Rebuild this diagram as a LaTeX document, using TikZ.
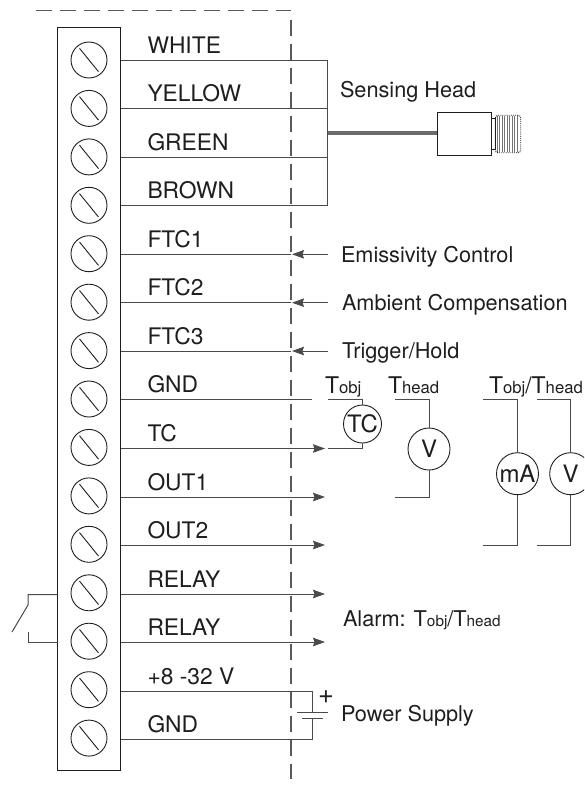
\documentclass[tikz,border=0pt]{standalone}
\usepackage{fontspec}
\setmainfont{TeX Gyre Heros}
\usetikzlibrary{arrows.meta}
\definecolor{ink}{HTML}{1E1E1E}
\definecolor{wire}{HTML}{4A4A4A}
\definecolor{dashc}{HTML}{5A5A5A}
\newcommand{\fbig}{\fontsize{22.8}{24}\selectfont}
\newcommand{\fmid}{\fontsize{21.7}{24}\selectfont}
\newcommand{\fsub}{\fontsize{16.7}{18}\selectfont}
\newcommand{\tsub}[1]{{\fontsize{23}{24}\selectfont T}{\fsub #1}}
\newcommand{\tsubs}[1]{T{\fontsize{15.3}{18}\selectfont #1}}
\tikzset{
  x=1pt,y=-1pt,
  every node/.style={inner sep=0pt,outer sep=0pt,text=ink},
  wireline/.style={draw=wire,line width=1pt},
  sig/.style={wireline,-{Stealth[length=12pt,width=8.5pt,inset=1.5pt]}},
  bound/.style={draw=dashc,line width=1.3pt,dash pattern=on 16pt off 8pt},
  term/.style={anchor=base west,font=\fbig},
  note/.style={anchor=base west,font=\fmid},
  screw/.style={circle,draw=ink,line width=0.9pt,minimum size=36pt},
  meter/.style={circle,draw=ink,line width=0.9pt,minimum size=42pt,font=\fontsize{24}{26}\selectfont},
  symb/.style={anchor=base west,font=\fbig},
}
\begin{document}
\begin{tikzpicture}
\useasboundingbox (0,0) rectangle (584,787);
\clip (0,0) rectangle (584,787);
% boundary
\coordinate (b0) at (36,10.5); \coordinate (b1) at (291,10.5);
\coordinate (b2) at (291,20); \coordinate (b3) at (291,779);
\draw[bound] (b0) -- (b1);
\draw[bound] (b2) -- (b3);
% terminal block
\node[draw=ink,line width=1pt,minimum width=63pt,minimum height=743.5pt] (block) at (89,399.2) {};
% terminals
\foreach \i/\wy/\sy/\lab in {1/60/60/WHITE,2/108.5/108.4/YELLOW,3/157/156.9/GREEN,4/205/205.3/BROWN,5/254.3/253.7/FTC1,6/302.7/302.2/FTC2,7/351/350.6/FTC3,8/399.5/399/GND,9/448.5/447.4/TC,10/497/495.9/OUT1,11/545/544.3/OUT2,12/594/592.8/RELAY,13/642/641.2/RELAY,14/691/689.7/+8 -32 V,15/739/738.1/GND}{
  \node[screw] (s\i) at (89,\sy) {};
  \draw[ink,line width=0.9pt] ([shift={(-9.5,-11.7)}]s\i.center) -- ([shift={(9.5,11.7)}]s\i.center);
  \coordinate (w\i) at (120.5,\wy);
  \pgfmathsetmacro{\ly}{\wy-6.8}
  \node[term] (l\i) at (147.5,\ly) {\lab};
}
% sensing head wires
\coordinate (bus1) at (327,60); \coordinate (bus2) at (327,108.5);
\coordinate (bus3) at (327,157); \coordinate (bus4) at (327,205);
\draw[wireline] (w1) -- (bus1) -- (bus4) -- (w4);
\draw[wireline] (w2) -- (bus2);
\draw[wireline] (w3) -- (bus3);
% sensing head
\node[draw=ink,line width=0.9pt,fill=white,minimum width=54pt,minimum height=42.6pt] (head) at (464,134) {};
\coordinate (cab0) at (327.5,133); \coordinate (cab1) at (437,133);
\draw[line width=4.5pt,draw=black!58] (cab0) -- (cab1);
\node[draw=ink,line width=0.8pt,minimum width=4pt,minimum height=31pt] (collar) at (493,133.5) {};
\foreach \x in {497,499.5,...,519}{\draw[black!55,line width=0.6pt] (\x,116) -- (\x,152);}
\node[draw=ink,line width=0.9pt,densely dotted,rounded corners=3pt,minimum width=25.5pt,minimum height=37.5pt] (thread) at (508,134) {};
\node[note] (nsense) at (340,97.5) {Sensing Head};
% control inputs
\coordinate (e5) at (291,254.3); \coordinate (e6) at (291,302.7); \coordinate (e7) at (291,351);
\coordinate (i5) at (292,254.3); \coordinate (i6) at (292,302.7); \coordinate (i7) at (292,351);
\coordinate (t5) at (328,254.3); \coordinate (t6) at (328,302.7); \coordinate (t7) at (328,351);
\foreach \i in {5,6,7}{
  \draw[wireline] (w\i) -- (e\i);
  \draw[sig] (t\i) -- (i\i);
}
\node[note] (n5) at (341,262) {Emissivity Control};
\node[note] (n6) at (342,310) {Ambient Compensation};
\node[note] (n7) at (342,358) {Trigger/Hold};
% outputs
\coordinate (g1) at (312,399.5);
\draw[wireline] (w8) -- (g1);
\coordinate (a9) at (325,448.5); \coordinate (a10) at (325,497); \coordinate (a11) at (325,545);
\coordinate (a12) at (325,594); \coordinate (a13) at (325,642);
\foreach \i in {9,10,11,12,13}{\draw[sig] (w\i) -- (a\i);}
% TC
\node[circle,draw=ink,line width=0.9pt,minimum size=38pt,font=\fontsize{24}{26}\selectfont] (tc) at (362.5,424) {TC};
\coordinate (tc1) at (328,399.5); \coordinate (tc2) at (328,448.5);
\draw[wireline] (tc1) -| (tc.north);
\draw[wireline] (tc2) -| (tc.south);
\node[symb] (ltc) at (325,393) {\tsub{obj}};
% V head
\node[meter] (vh) at (429,449) {V};
\coordinate (v1) at (395,399.5); \coordinate (v2) at (395,497);
\draw[wireline] (v1) -| (vh.north);
\draw[wireline] (v2) -| (vh.south);
\node[symb] (lvh) at (388,393) {\tsub{head}};
% mA and V
\node[meter] (ma) at (517.5,473.7) {mA};
\coordinate (m1) at (483,399.5); \coordinate (m2) at (483,545);
\draw[wireline] (m1) -| (ma.north);
\draw[wireline] (m2) -| (ma.south);
\node[meter] (vo) at (570.7,473.7) {V};
\coordinate (o1) at (537,399.5); \coordinate (o2) at (537,545);
\draw[wireline] (o1) -| (vo.north);
\draw[wireline] (o2) -| (vo.south);
\node[symb] (lmv) at (489,393) {\tsub{obj}/\tsub{head}};
% alarm
\node[note] (nal) at (343,626) {Alarm: \tsubs{obj}/\tsubs{head}};
% relay switch
\coordinate (r1) at (28,594.7); \coordinate (r2) at (28,605); \coordinate (r3) at (12,632);
\coordinate (r4) at (28,632); \coordinate (r5) at (28,642);
\coordinate (bl12) at (57.5,594.7); \coordinate (bl13) at (57.5,642);
\draw[wireline] (bl12) -- (r1) -- (r2) -- (r3);
\draw[wireline] (bl13) -- (r5) -- (r4);
% power supply
\coordinate (p1) at (312.5,691); \coordinate (p2) at (312.5,712);
\coordinate (p3) at (312.5,718.7); \coordinate (p4) at (312.5,739);
\coordinate (pa) at (297,712); \coordinate (pb) at (328,712);
\coordinate (pc) at (302,718.7); \coordinate (pd) at (323,718.7);
\draw[wireline] (w14) -- (p1) -- (p2);
\draw[wireline] (w15) -- (p4) -- (p3);
\draw[wireline] (pa) -- (pb);
\draw[wireline] (pc) -- (pd);
\node[font=\fontsize{27}{28}\selectfont] (plus) at (326,697) {+};
\node[note] (npow) at (341,721) {Power Supply};
\end{tikzpicture}
\end{document}
